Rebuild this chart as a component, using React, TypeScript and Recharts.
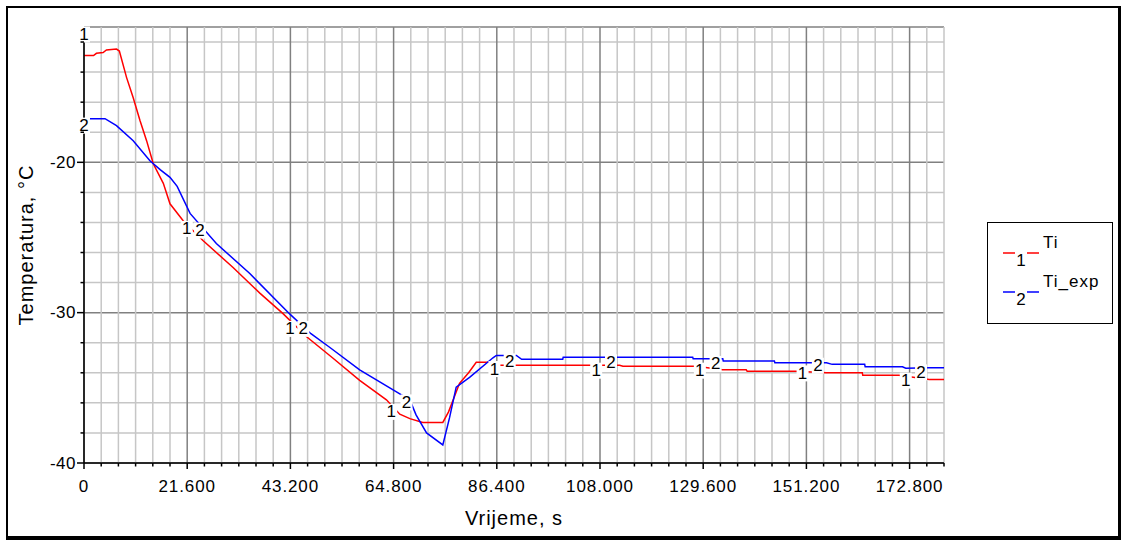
import React from 'react';
import {
    LineChart,
    Line,
    XAxis,
    YAxis,
    CartesianGrid,
    ReferenceDot,
} from 'recharts';

// Ti (series 1, red)
const tiTime = [0, 2.0, 2.6, 4.0, 4.7, 6.8, 7.4, 8.9, 10.3, 11.7, 13.1, 14.5, 16.6, 18.0, 20.8, 24.9, 31.2, 36.8, 41.6, 46.6, 52.0, 57.7, 63.3, 66.1, 68.2, 70.9, 75.1, 76.3, 78.6, 80.5, 82.1, 85.0, 86.5, 112.1, 112.8, 128.2, 133.6, 138.6, 138.8, 149.1, 155.4, 162.9, 163.0, 170.6, 176.9, 180];
const tiValue = [-12.9, -12.9, -12.75, -12.7, -12.53, -12.47, -12.6, -14.35, -15.7, -17.2, -18.56, -20.1, -21.4, -22.76, -23.9, -25.2, -27.0, -28.7, -30.05, -31.6, -33.0, -34.5, -35.8, -36.75, -37.05, -37.3, -37.3, -36.6, -34.7, -34.0, -33.3, -33.3, -33.5, -33.5, -33.57, -33.57, -33.8, -33.8, -33.89, -33.89, -34.0, -34.0, -34.17, -34.17, -34.44, -34.44];

// Ti_exp (series 2, blue)
const expTime = [0, 4.4, 6.8, 10.3, 13.8, 16.0, 18.0, 19.5, 22.2, 27.7, 34.7, 43.1, 47.5, 51.4, 57.7, 66.1, 68.2, 69.5, 71.7, 75.1, 76.5, 77.9, 80.7, 85.6, 86.3, 90.5, 91.6, 100.2, 100.3, 127.4, 127.5, 133.7, 133.8, 144.5, 144.6, 155.4, 156.6, 163.4, 163.5, 171.3, 172.0, 176.9, 180];
const expValue = [-17.1, -17.1, -17.56, -18.56, -19.9, -20.5, -21.0, -21.6, -23.4, -25.4, -27.4, -30.1, -31.4, -32.3, -33.8, -35.4, -35.8, -36.8, -38.0, -38.8, -37.0, -34.95, -34.3, -33.0, -32.85, -32.85, -33.1, -33.1, -32.96, -32.96, -33.07, -33.07, -33.22, -33.22, -33.33, -33.33, -33.44, -33.44, -33.6, -33.6, -33.7, -33.66, -33.66];

// curve number tags ("1" / "2") drawn along the lines
const tag1Time = [0, 21.5, 43.1, 64.3, 85.9, 107.2, 128.9, 150.4, 172.0];
const tag1Value = [-11.5, -24.43, -31.08, -36.6, -33.75, -33.86, -33.86, -34.04, -34.52];
const tag2Time = [0, 24.3, 45.9, 67.5, 89.1, 110.3, 132.2, 153.6, 175.2];
const tag2Value = [-17.56, -24.54, -31.08, -35.97, -33.24, -33.3, -33.41, -33.53, -33.97];

const majorXTicks = [0, 21.6, 43.2, 64.8, 86.4, 108, 129.6, 151.2, 172.8];
const majorYTicks = [-40, -30, -20];

// minor divisions: 6 per major step on x, 5 per major step on y
const xTicks = Array.from({ length: 51 }, (_, i) => +(i * 3.6).toFixed(2));
const yTicks = Array.from({ length: 15 }, (_, i) => -40 + i * 2);

const tiData = tiTime.map((t, i) => ({ t, v: tiValue[i] }));
const expData = expTime.map((t, i) => ({ t, v: expValue[i] }));

const FONT = '"Liberation Sans", Arial, sans-serif';

const isMajorX = (v: number) => majorXTicks.some((m) => Math.abs(m - v) < 1e-6);
const isMajorY = (v: number) => majorYTicks.includes(v);

function XTick(props: any) {
    const { x, y, payload } = props;
    const major = isMajorX(payload.value);
    const label = payload.value === 0 ? '0' : payload.value.toFixed(3);
    return (
        <g>
            <line x1={x} x2={x} y1={y} y2={y + (major ? 6 : 3.5)} stroke="#000" strokeWidth={1.5} />
            {major && (
                <text x={x} y={y + 29} textAnchor="middle" fontSize={17} letterSpacing={0.9} fontFamily={FONT} fill="#000">
                    {label}
                </text>
            )}
        </g>
    );
}

function YTick(props: any) {
    const { x, y, payload } = props;
    const major = isMajorY(payload.value);
    return (
        <g>
            <line x1={x - (major ? 7 : 3.5)} x2={x} y1={y} y2={y} stroke="#000" strokeWidth={1.5} />
            {major && (
                <text x={x - 8} y={y} textAnchor="end" dominantBaseline="central" fontSize={17} letterSpacing={0.5} fontFamily={FONT} fill="#000">
                    {payload.value}
                </text>
            )}
        </g>
    );
}

function Tag({ viewBox, text }: any) {
    const cx = viewBox.x + (viewBox.width || 0) / 2;
    const cy = viewBox.y + (viewBox.height || 0) / 2;
    return (
        <g>
            <rect x={cx - 6} y={cy - 8} width={12} height={16} fill="#fff" />
            <text x={cx} y={cy} textAnchor="middle" dominantBaseline="central" fontSize={17} fontFamily={FONT} fill="#000">
                {text}
            </text>
        </g>
    );
}

function Legend() {
    return (
        <div
            style={{
                position: 'absolute',
                left: 987,
                top: 222,
                width: 126,
                height: 102,
                boxSizing: 'border-box',
                border: '1.5px solid #000',
                background: '#fff',
            }}
        >
            <svg width={124} height={100} style={{ fontFamily: FONT }}>
                <line x1={15} x2={27} y1={30} y2={30} stroke="#ff0000" strokeWidth={1.5} />
                <line x1={39} x2={51} y1={30} y2={30} stroke="#ff0000" strokeWidth={1.5} />
                <text x={33} y={43} textAnchor="middle" fontSize={17} fill="#000">1</text>
                <text x={55} y={25} fontSize={17} letterSpacing={1} fill="#000">Ti</text>
                <line x1={15} x2={27} y1={69} y2={69} stroke="#0000ff" strokeWidth={1.5} />
                <line x1={39} x2={51} y1={69} y2={69} stroke="#0000ff" strokeWidth={1.5} />
                <text x={33} y={82} textAnchor="middle" fontSize={17} fill="#000">2</text>
                <text x={55} y={64} fontSize={17} letterSpacing={1} fill="#000">Ti_exp</text>
            </svg>
        </div>
    );
}

export default function App() {
    return (
        <div style={{ position: 'absolute', left: 0, top: 0, width: 1122, height: 543, background: '#fff' }}>
            <div
                style={{
                    position: 'absolute',
                    left: 6,
                    top: 6,
                    width: 1115,
                    height: 534,
                    boxSizing: 'border-box',
                    borderTop: '2px solid #000',
                    borderLeft: '2px solid #000',
                    borderRight: '3px solid #000',
                    borderBottom: '4px solid #000',
                }}
            />
            <div style={{ position: 'absolute', left: 0, top: 0 }}>
                <LineChart width={1122} height={543} margin={{ top: 27, right: 178, bottom: 0, left: 0 }}>
                    <CartesianGrid
                        horizontal={(p: any) => (
                            <line
                                key={`h${p.index}`}
                                x1={p.x1}
                                x2={p.x2}
                                y1={p.y1}
                                y2={p.y2}
                                stroke={p.index % 5 === 0 ? '#808080' : '#c6c6c6'}
                                strokeWidth={1.5}
                            />
                        )}
                        vertical={(p: any) => (
                            <line
                                key={`v${p.index}`}
                                x1={p.x1}
                                x2={p.x2}
                                y1={p.y1}
                                y2={p.y2}
                                stroke={p.index % 6 === 0 ? '#808080' : '#c6c6c6'}
                                strokeWidth={1.5}
                            />
                        )}
                    />
                    <XAxis
                        type="number"
                        dataKey="t"
                        domain={[0, 180]}
                        ticks={xTicks}
                        interval={0}
                        allowDataOverflow
                        height={80}
                        tickSize={0}
                        tickMargin={0}
                        tickLine={false}
                        axisLine={{ stroke: '#000', strokeWidth: 1.5 }}
                        tick={<XTick />}
                        label={{ value: 'Vrijeme, s', position: 'insideBottom', offset: 18, fontSize: 20, letterSpacing: 1, fontFamily: FONT, fill: '#000' }}
                    />
                    <YAxis
                        type="number"
                        domain={[-40, -11]}
                        ticks={yTicks}
                        interval={0}
                        allowDataOverflow
                        width={84}
                        tickSize={0}
                        tickMargin={0}
                        tickLine={false}
                        axisLine={{ stroke: '#000', strokeWidth: 1.5 }}
                        tick={<YTick />}
                        label={(p: any) => {
                            const vb = p.viewBox;
                            const cy = vb.y + vb.height / 2;
                            return (
                                <text
                                    transform={`translate(33, ${cy}) rotate(-90)`}
                                    textAnchor="middle"
                                    fontSize={20}
                                    letterSpacing={1}
                                    fontFamily={FONT}
                                    fill="#000"
                                >
                                    Temperatura, °C
                                </text>
                            );
                        }}
                    />
                    <Line data={tiData} dataKey="v" type="linear" stroke="#ff0000" strokeWidth={1.5} dot={false} isAnimationActive={false} />
                    <Line data={expData} dataKey="v" type="linear" stroke="#0000ff" strokeWidth={1.5} dot={false} isAnimationActive={false} />
                    {tag1Time.map((t, i) => (
                        <ReferenceDot key={`a${i}`} x={t} y={tag1Value[i]} r={0} fill="none" stroke="none" ifOverflow="visible" label={(p: any) => <Tag viewBox={p.viewBox} text="1" />} />
                    ))}
                    {tag2Time.map((t, i) => (
                        <ReferenceDot key={`b${i}`} x={t} y={tag2Value[i]} r={0} fill="none" stroke="none" ifOverflow="visible" label={(p: any) => <Tag viewBox={p.viewBox} text="2" />} />
                    ))}
                </LineChart>
            </div>
            <Legend />
        </div>
    );
}
